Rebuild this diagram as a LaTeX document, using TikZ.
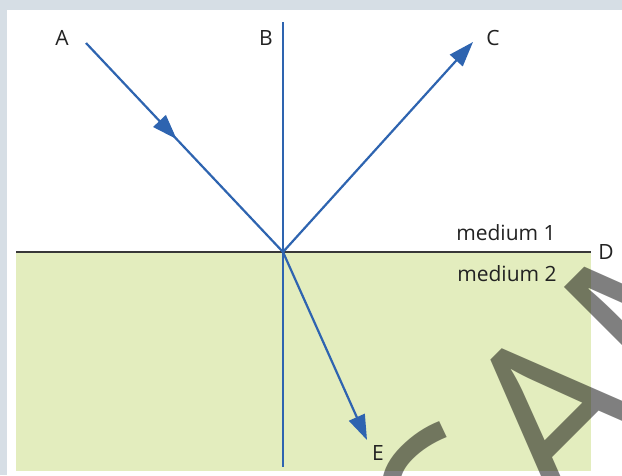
\documentclass[tikz,border=0pt]{standalone}
\usepackage{fontspec}
\setmainfont{Open Sans}
\usetikzlibrary{arrows.meta, calc}
\definecolor{cFrame}{HTML}{D6DEE5}
\definecolor{cRay}{HTML}{2E64B0}
\definecolor{cMedium}{HTML}{E3EDBE}
\definecolor{cText}{HTML}{222222}
\definecolor{cLine}{HTML}{383838}

\begin{document}
\begin{tikzpicture}[
  x=1pt, y=-1pt,
  ray/.style={draw=cRay, line width=2.2pt},
  rayhead/.style={-{Triangle[length=25pt, width=17pt]}},
  lbl/.style={font=\fontsize{21}{25}\selectfont, text=cText, inner sep=0pt},
  wmark/.style={rotate=45, anchor=base west, inner sep=0pt, text=black,
    text opacity=0.5, font=\fontsize{230}{230}\selectfont}
]
  \useasboundingbox (0,0) rectangle (622,475);
  \fill[cFrame] (0,0) rectangle (622,475);
  \fill[white] (7,10) rectangle (622,475);
  \fill[cMedium] (16,252) rectangle (591,471);

  \coordinate (a) at (86,43);
  \coordinate (o) at (283,252);
  \coordinate (c) at (473,42);
  \coordinate (e) at (367,440);
  \coordinate (btop) at (283,22);
  \coordinate (bbot) at (283,467);
  \coordinate (sleft) at (16,252);
  \coordinate (sright) at (591,252);

  \node[lbl] (A) at (62,38) {A};
  \node[lbl] (B) at (266,38) {B};
  \node[lbl] (C) at (493,38) {C};
  \node[lbl] (D) at (606,252) {D};
  \node[lbl] (E) at (378,453) {E};
  \node[lbl] (m1) at (506,233) {medium 1};
  \node[lbl] (m2) at (507,274) {medium 2};

  \draw[cLine, line width=2pt] (sleft) -- (sright);
  \draw[ray] (btop) -- (bbot);
  \draw[ray, rayhead] (a) -- ($(a)!0.46!(o)$);
  \draw[ray] ($(a)!0.44!(o)$) -- (o);
  \draw[ray, rayhead] (o) -- (c);
  \draw[ray, rayhead] (o) -- (e);

  % watermark
  \begin{scope}
    \clip (0,0) rectangle (622,475);
    \node[wmark] (wm) at (472,612) {SAMPLE};
  \end{scope}
\end{tikzpicture}
\end{document}
